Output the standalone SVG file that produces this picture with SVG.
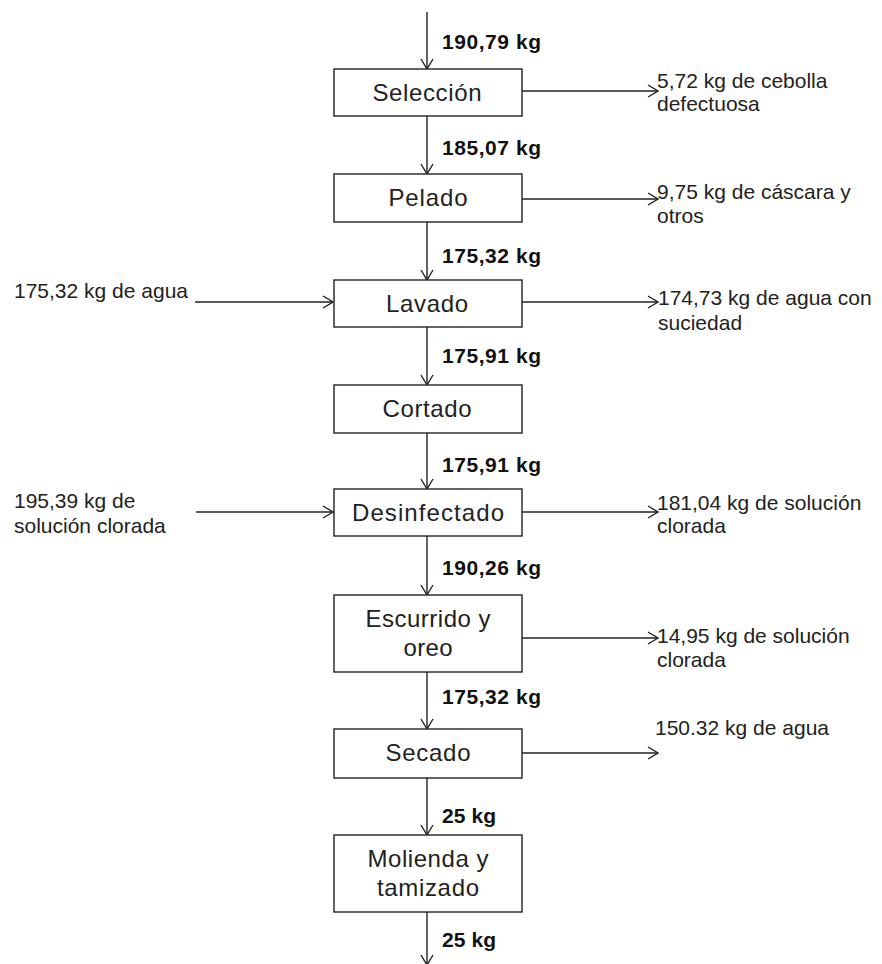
<svg xmlns="http://www.w3.org/2000/svg" width="882" height="964" viewBox="0 0 882 964">
<style>
  .box{fill:#fff;stroke:#222;stroke-width:1.4}
  .lbl{font-family:"Liberation Sans",Arial,sans-serif;font-size:24px;fill:#222;text-anchor:middle}
  .side{font-family:"Liberation Sans",Arial,sans-serif;font-size:21px;fill:#222}
  .qty{font-family:"Liberation Sans",Arial,sans-serif;font-size:21px;font-weight:bold;fill:#111}
  .ln{stroke:#222;stroke-width:1.4;fill:none}
</style>
<defs>
  <marker id="arr" viewBox="0 0 12 14" refX="11" refY="7" markerWidth="12" markerHeight="14" markerUnits="userSpaceOnUse" orient="auto">
    <path d="M1,1 L11,7 L1,13" fill="none" stroke="#222" stroke-width="1.4"/>
  </marker>
</defs>
<rect width="882" height="964" fill="#fff"/>

<g id="connectors">
  <line class="ln" x1="427" y1="12" x2="427" y2="69" marker-end="url(#arr)"/>
  <line class="ln" x1="427" y1="116" x2="427" y2="174" marker-end="url(#arr)"/>
  <line class="ln" x1="427" y1="222" x2="427" y2="280" marker-end="url(#arr)"/>
  <line class="ln" x1="427" y1="327" x2="427" y2="385" marker-end="url(#arr)"/>
  <line class="ln" x1="427" y1="433" x2="427" y2="489" marker-end="url(#arr)"/>
  <line class="ln" x1="427" y1="536" x2="427" y2="595" marker-end="url(#arr)"/>
  <line class="ln" x1="427" y1="672" x2="427" y2="729" marker-end="url(#arr)"/>
  <line class="ln" x1="427" y1="778" x2="427" y2="835" marker-end="url(#arr)"/>
  <line class="ln" x1="427" y1="912" x2="427" y2="965" marker-end="url(#arr)"/>
  <line class="ln" x1="522" y1="91" x2="658" y2="91" marker-end="url(#arr)"/>
  <line class="ln" x1="522" y1="199" x2="658" y2="199" marker-end="url(#arr)"/>
  <line class="ln" x1="522" y1="302" x2="658" y2="302" marker-end="url(#arr)"/>
  <line class="ln" x1="522" y1="512" x2="658" y2="512" marker-end="url(#arr)"/>
  <line class="ln" x1="522" y1="638" x2="658" y2="638" marker-end="url(#arr)"/>
  <line class="ln" x1="522" y1="753" x2="658" y2="753" marker-end="url(#arr)"/>
  <line class="ln" x1="195" y1="302" x2="333" y2="302" marker-end="url(#arr)"/>
  <line class="ln" x1="196" y1="512" x2="333" y2="512" marker-end="url(#arr)"/>
</g>

<g id="quantities">
  <text class="qty" x="442" y="49" textLength="99">190,79 kg</text>
  <text class="qty" x="442" y="155" textLength="99">185,07 kg</text>
  <text class="qty" x="442" y="263" textLength="99">175,32 kg</text>
  <text class="qty" x="442" y="363" textLength="99">175,91 kg</text>
  <text class="qty" x="442" y="472" textLength="99">175,91 kg</text>
  <text class="qty" x="442" y="575" textLength="99">190,26 kg</text>
  <text class="qty" x="442" y="704" textLength="99">175,32 kg</text>
  <text class="qty" x="442" y="823" textLength="54">25 kg</text>
  <text class="qty" x="442" y="947" textLength="54">25 kg</text>
</g>

<g id="n-seleccion">
  <rect class="box" x="334" y="69" width="188" height="47"/>
  <text class="lbl" x="427" y="101" textLength="109">Selección</text>
</g>
<g id="n-pelado">
  <rect class="box" x="334" y="174" width="188" height="48"/>
  <text class="lbl" x="428" y="206" textLength="79">Pelado</text>
</g>
<g id="n-lavado">
  <rect class="box" x="334" y="280" width="188" height="47"/>
  <text class="lbl" x="427" y="312" textLength="82">Lavado</text>
</g>
<g id="n-cortado">
  <rect class="box" x="334" y="385" width="188" height="48"/>
  <text class="lbl" x="427" y="417" textLength="89">Cortado</text>
</g>
<g id="n-desinfectado">
  <rect class="box" x="334" y="489" width="188" height="47"/>
  <text class="lbl" x="428" y="521" textLength="152">Desinfectado</text>
</g>
<g id="n-escurrido">
  <rect class="box" x="334" y="595" width="188" height="77"/>
  <text class="lbl" x="428" y="627" textLength="125">Escurrido y</text>
  <text class="lbl" x="428" y="656" textLength="49">oreo</text>
</g>
<g id="n-secado">
  <rect class="box" x="334" y="729" width="188" height="49"/>
  <text class="lbl" x="428" y="761" textLength="85">Secado</text>
</g>
<g id="n-molienda">
  <rect class="box" x="334" y="835" width="188" height="77"/>
  <text class="lbl" x="428" y="867" textLength="121">Molienda y</text>
  <text class="lbl" x="428" y="896" textLength="102">tamizado</text>
</g>

<g id="outputs">
  <text class="side" x="657" y="88">5,72 kg de cebolla</text>
  <text class="side" x="657" y="111">defectuosa</text>
  <text class="side" x="657" y="199">9,75 kg de cáscara y</text>
  <text class="side" x="657" y="223">otros</text>
  <text class="side" x="658" y="305">174,73 kg de agua con</text>
  <text class="side" x="658" y="330">suciedad</text>
  <text class="side" x="657" y="510">181,04 kg de solución</text>
  <text class="side" x="657" y="533">clorada</text>
  <text class="side" x="657" y="643">14,95 kg de solución</text>
  <text class="side" x="657" y="667">clorada</text>
  <text class="side" x="655" y="735">150.32 kg de agua</text>
</g>

<g id="inputs">
  <text class="side" x="14" y="298">175,32 kg de agua</text>
  <text class="side" x="14" y="508">195,39 kg de</text>
  <text class="side" x="14" y="533">solución clorada</text>
</g>
</svg>
